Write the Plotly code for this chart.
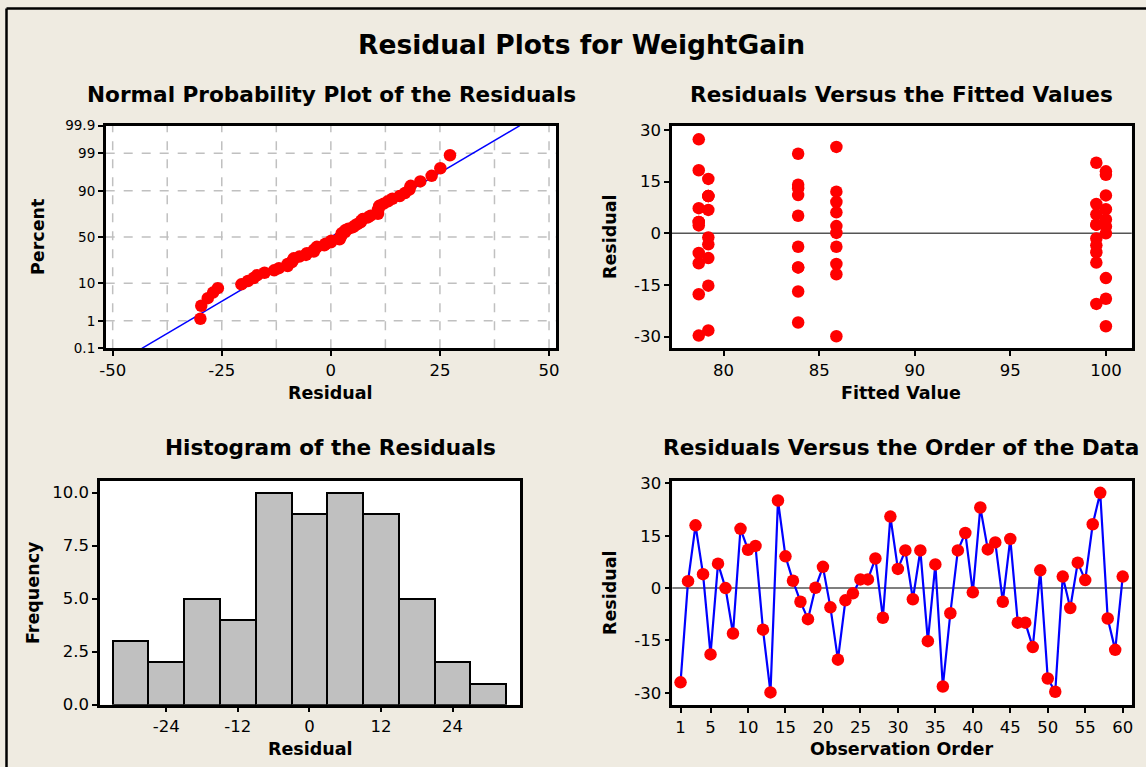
import plotly.graph_objects as go
from statistics import NormalDist
import numpy as np

W, H = 1146, 767

# ---------------- data ----------------
residuals = [
    -27.0, 2.0, 18.0, 4.0, -19.0, 7.0, 0.0, -13.0, 17.0, 11.0,
    12.1, -11.9, -29.9, 25.1, 9.1, 2.1, -3.9, -8.9, 0.1, 6.1,
    -5.5, -20.5, -3.5, -1.5, 2.5, 2.5, 8.5, -8.5, 20.5, 5.5,
    10.8, -3.2, 10.8, -15.2, 6.8, -28.2, -7.2, 10.8, 15.8, -1.2,
    23.1, 11.1, 13.1, -3.9, 14.1, -9.9, -9.9, -16.9, 5.1, -25.9,
    -29.7, 3.3, -5.7, 7.3, 2.3, 18.3, 27.3, -8.7, -17.7, 3.3,
]
group_fitted = [100.0, 85.9, 99.5, 79.2, 83.9, 78.7]
group_size = [10, 10, 10, 10, 10, 10]
fitted = [f for f, n in zip(group_fitted, group_size) for _ in range(n)]
order = list(range(1, len(residuals) + 1))

hist_centers = [-30, -24, -18, -12, -6, 0, 6, 12, 18, 24, 30]
hist_counts = [3, 2, 5, 4, 10, 9, 10, 9, 5, 2, 1]
bin_width = 6

prob_ticks = [0.1, 1, 10, 50, 90, 99, 99.9]
prob_labels = ["0.1", "1", "10", "50", "90", "99", "99.9"]

x1_ticks = [-50, -25, 0, 25, 50]
x2_ticks = [80, 85, 90, 95, 100]
res_ticks = [-30, -15, 0, 15, 30]
x3_ticks = [-24, -12, 0, 12, 24]
y3_ticks = [0, 2.5, 5, 7.5, 10]
x4_ticks = [1, 5, 10, 15, 20, 25, 30, 35, 40, 45, 50, 55, 60]

# ---------------- helpers ----------------
def px_x(x):
    return x / W

def px_y(y):
    return 1 - y / H

def lab(vals, fmt="{:g}"):
    return [fmt.format(v) for v in vals]

nd = NormalDist()
RED = "#FF0000"
BLUE = "#0000FF"
BG = "#EFEBE1"
FONT = "DejaVu Sans"
MS = 12.5

fig = go.Figure()

# ---- Panel 1: normal probability plot ----
n = len(residuals)
sres = sorted(residuals)
pos = [(i - 0.3) / (n + 0.4) for i in range(1, n + 1)]
zs = [nd.inv_cdf(p) for p in pos]
mean = float(np.mean(residuals))
sd = float(np.std(residuals, ddof=1))
zline = [nd.inv_cdf(0.001), nd.inv_cdf(0.999)]
xline = [mean + sd * z for z in zline]
fig.add_trace(go.Scatter(x=xline, y=zline, mode="lines", line=dict(color=BLUE, width=1.5),
                         xaxis="x", yaxis="y", showlegend=False, hoverinfo="skip"))
fig.add_trace(go.Scatter(x=sres, y=zs, mode="markers", marker=dict(color=RED, size=MS),
                         xaxis="x", yaxis="y", showlegend=False))

# ---- Panel 2: residuals vs fitted ----
fig.add_trace(go.Scatter(x=fitted, y=residuals, mode="markers", marker=dict(color=RED, size=MS),
                         xaxis="x2", yaxis="y2", showlegend=False))

# ---- Panel 3: histogram ----
fig.add_trace(go.Bar(x=hist_centers, y=hist_counts, width=bin_width,
                     marker=dict(color="#C0C0C0", line=dict(color="black", width=2)),
                     xaxis="x3", yaxis="y3", showlegend=False))

# ---- Panel 4: residuals vs order ----
fig.add_trace(go.Scatter(x=order, y=residuals, mode="lines+markers",
                         line=dict(color=BLUE, width=2.2), marker=dict(color=RED, size=MS),
                         xaxis="x4", yaxis="y4", showlegend=False))

axis_common = dict(showline=True, linecolor="black", linewidth=2.5, mirror=True,
                   ticks="outside", ticklen=5, tickwidth=1.5, tickcolor="black",
                   zeroline=False, showgrid=False, automargin=False,
                   tickfont=dict(family=FONT, size=16.5, color="black"))

d1x = [px_x(105.7), px_x(556)]
d1y = [px_y(348.3), px_y(125.7)]
d2x = [px_x(672), px_x(1131.7)]
d3x = [px_x(100), px_x(520)]
d3y = [px_y(704.7), px_y(481)]
d4x = [px_x(672.3), px_x(1131.7)]
d4y = [px_y(705), px_y(481)]

fig.update_layout(
    width=W, height=H,
    margin=dict(l=0, r=0, t=0, b=0, pad=0, autoexpand=False),
    paper_bgcolor=BG, plot_bgcolor="white",
    font=dict(family=FONT, color="black"),
    xaxis=dict(domain=d1x, range=[-51.6, 51.6], tickvals=x1_ticks, ticktext=lab(x1_ticks),
               anchor="y", **axis_common),
    yaxis=dict(domain=d1y, range=[zline[0], zline[1]],
               tickvals=[nd.inv_cdf(p / 100) for p in prob_ticks], ticktext=prob_labels,
               anchor="x",
               **{**axis_common, "tickfont": dict(family=FONT, size=13.5, color="black")}),
    xaxis2=dict(domain=d2x, range=[77.3, 101.35], tickvals=x2_ticks, ticktext=lab(x2_ticks),
                anchor="y2", **axis_common),
    yaxis2=dict(domain=d1y, range=[-33.4, 31.25], tickvals=res_ticks, ticktext=lab(res_ticks),
                anchor="x2", **axis_common),
    xaxis3=dict(domain=d3x, range=[-35.1, 35.3], tickvals=x3_ticks, ticktext=lab(x3_ticks),
                anchor="y3", **axis_common),
    yaxis3=dict(domain=d3y, range=[0, 10.55], tickvals=y3_ticks, ticktext=lab(y3_ticks, "{:.1f}"),
                anchor="x3", **axis_common),
    xaxis4=dict(domain=d4x, range=[-0.1, 61.2], tickvals=x4_ticks, ticktext=lab(x4_ticks),
                anchor="y4", **axis_common),
    yaxis4=dict(domain=d4y, range=[-33.5, 30.7], tickvals=res_ticks, ticktext=lab(res_ticks),
                anchor="x4", **axis_common),
    bargap=0,
)

shapes = []
grid_style = dict(color="#C0C0C0", width=1.5, dash="dash")
for gx in [-50, -37.5, -25, -12.5, 0, 12.5, 25, 37.5, 50]:
    shapes.append(dict(type="line", xref="x", yref="paper", x0=gx, x1=gx,
                       y0=d1y[0], y1=d1y[1], line=grid_style, layer="below"))
for p in [1, 10, 50, 90, 99]:
    z = nd.inv_cdf(p / 100)
    shapes.append(dict(type="line", xref="paper", yref="y", x0=d1x[0], x1=d1x[1],
                       y0=z, y1=z, line=grid_style, layer="below"))
shapes.append(dict(type="line", xref="paper", yref="y2", x0=d2x[0], x1=d2x[1], y0=0, y1=0,
                   line=dict(color="#555555", width=1.5), layer="below"))
shapes.append(dict(type="line", xref="paper", yref="y4", x0=d4x[0], x1=d4x[1], y0=0, y1=0,
                   line=dict(color="#555555", width=1.5), layer="below"))
# outer frame (left and top edges visible)
shapes.append(dict(type="line", xref="paper", yref="paper", x0=px_x(6.5), x1=px_x(6.5),
                   y0=0, y1=px_y(8.5), line=dict(color="black", width=2.5)))
shapes.append(dict(type="line", xref="paper", yref="paper", x0=px_x(6.5), x1=1,
                   y0=px_y(8.5), y1=px_y(8.5), line=dict(color="black", width=2.5)))
fig.update_layout(shapes=shapes)

ann = []
def text(s, x, y, size, angle=0, bold=True):
    ann.append(dict(text=("<b>%s</b>" % s) if bold else s, x=px_x(x), y=px_y(y),
                    xref="paper", yref="paper", showarrow=False, textangle=angle,
                    font=dict(family=FONT, size=size, color="black"),
                    xanchor="center", yanchor="middle"))

text("Residual Plots for WeightGain", 581, 44, 26.5)
text("Normal Probability Plot of the Residuals", 331, 94, 21.6)
text("Residuals Versus the Fitted Values", 901, 94, 21.6)
text("Histogram of the Residuals", 330, 448, 21.6)
text("Residuals Versus the Order of the Data", 901, 448, 21.6)
text("Residual", 330, 393, 17.5)
text("Percent", 38, 237, 17.5, angle=-90)
text("Fitted Value", 901, 393, 17.5)
text("Residual", 610, 237, 17.5, angle=-90)
text("Frequency", 33, 593, 17.5, angle=-90)
text("Residual", 310, 749, 17.5)
text("Observation Order", 901, 749, 17.5)
text("Residual", 610, 593, 17.5, angle=-90)
fig.update_layout(annotations=ann)

fig.write_html("out.html",
               config={"displayModeBar": False},
               post_script="document.body.style.margin='0';document.body.style.overflow='hidden';"
                           "document.documentElement.style.overflow='hidden';")
